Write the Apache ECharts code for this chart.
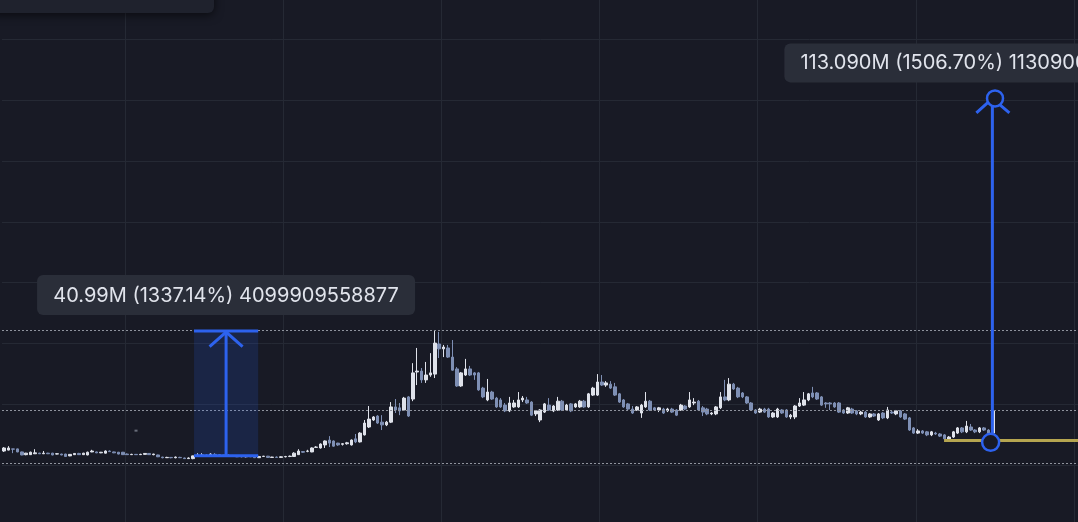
<!DOCTYPE html>
<html><head><meta charset="utf-8">
<script src="https://cdn.jsdelivr.net/npm/echarts@6/dist/echarts.min.js"></script>
<style>html,body{margin:0;padding:0;background:#181a25;overflow:hidden}#c{width:1078px;height:522px}</style>
</head><body><div id="c"></div>
<script>
// ---- data (values in millions) ----
const slotCount = 245;
const categories = Array.from({length: slotCount}, (_, i) => 'P' + (i + 1));
const opens = [
4.6,4.9,5.3,5.3,4.3,3.4,3.4,3.7,3.9,3.7,
3.9,3.9,3.6,3.6,3.6,3.0,3.4,3.8,3.4,3.3,
4.3,4.3,4.0,3.9,4.6,4.3,4.2,4.2,3.6,3.4,
3.5,3.4,3.5,3.8,3.4,3.3,2.6,2.4,2.5,2.4,
2.5,2.3,2.1,2.1,
3.0,3.0,3.3,3.0,3.5,3.4,3.1,3.2,3.1,3.0,
2.8,2.7,2.9,2.9,2.4,2.8,2.9,2.5,2.6,2.5,
2.7,2.8,
2.8,3.4,4.4,4.5,4.3,5.8,5.6,6.6,8.2,7.9,
7.2,6.8,7.0,6.6,8.6,7.6,9.9,12.5,14.8,16.1,
14.1,13.2,14.1,19.1,18.8,18.1,22.4,21.7,30.6,30.9,
28.0,29.6,29.9,39.8,38.2,38.5,35.5,31.6,26.0,29.6,
31.6,30.3,30.3,25.3,21.4,24.0,22.0,21.4,19.7,17.8,
19.1,19.1,21.4,21.4,20.7,16.8,14.8,17.4,19.7,17.8,
18.1,21.0,18.1,20.1,19.1,19.1,21.0,19.1,23.0,23.0,
27.3,26.3,26.6,25.7,23.4,21.4,20.1,18.4,18.1,17.1,
19.1,21.0,18.8,18.1,18.4,17.8,18.4,18.1,18.1,19.4,
19.1,20.4,21.0,18.8,18.4,16.8,16.8,18.8,22.4,21.4,
26.6,25.3,23.7,22.4,20.4,18.1,17.4,18.4,18.4,15.8,
15.8,18.1,18.1,15.8,15.8,19.4,19.7,21.4,23.7,23.7,
22.4,20.4,20.4,20.4,20.4,18.1,17.1,18.4,17.8,16.8,
17.4,15.8,16.8,14.8,17.1,15.5,17.4,16.8,17.8,16.8,
15.5,12.2,10.5,11.2,10.9,9.9,10.5,10.2,9.9,8.2,
9.2,10.5,12.2,10.9,12.5,11.5,10.9,12.2,11.5,10.5
];
const closes = [
5.6,5.6,5.2,4.3,3.3,3.9,4.2,4.0,3.7,3.9,
3.7,3.3,3.7,3.3,2.8,3.5,3.8,3.4,3.9,4.2,
4.6,4.0,4.2,4.6,4.4,4.0,3.6,3.4,3.4,3.5,
3.4,3.5,3.8,3.4,3.6,2.7,2.4,2.5,2.4,2.6,
2.4,2.1,2.3,3.0,
3.3,3.3,3.1,3.6,3.4,3.1,3.2,3.0,2.8,2.7,
2.7,2.9,2.7,2.4,2.8,2.9,2.5,2.6,2.5,2.7,
2.8,2.9,
3.9,4.6,4.2,4.6,5.6,5.9,6.9,7.9,7.2,6.2,
6.6,7.0,7.3,8.2,7.6,10.5,13.8,15.1,15.8,13.8,
13.2,14.1,19.1,18.1,17.8,22.0,16.1,30.3,30.9,28.0,
29.6,30.3,40.1,38.2,38.8,35.5,31.2,26.0,30.3,31.6,
29.6,29.6,24.7,22.4,24.0,21.7,19.1,19.1,17.8,20.4,
20.4,21.4,22.0,20.4,16.4,17.8,18.1,20.1,18.1,19.4,
21.0,18.1,19.7,17.8,20.1,21.0,19.1,23.4,25.3,27.3,
26.3,27.0,25.3,23.0,20.7,19.1,18.4,17.1,19.1,19.7,
21.0,18.1,18.1,18.8,17.1,18.4,17.4,16.4,19.7,18.4,
21.4,20.7,18.1,17.4,16.8,17.1,19.1,22.4,21.4,26.6,
25.0,22.4,22.4,20.4,18.1,17.1,18.4,17.4,15.8,17.1,
18.4,17.1,15.8,16.4,19.4,20.4,21.4,23.4,22.4,21.7,
19.7,20.1,20.1,19.1,17.4,17.1,18.8,17.1,16.8,17.4,
15.8,16.8,16.1,16.8,15.5,18.1,17.1,17.8,15.8,15.1,
11.5,10.5,11.2,10.5,9.9,10.9,10.2,9.5,8.6,9.2,
10.9,12.2,10.9,12.8,11.5,10.9,12.2,11.5,10.5,17.8
];
const lows = [
4.3,4.8,3.9,4.2,3.2,3.2,3.3,3.6,3.6,3.6,
3.6,3.2,3.5,3.2,2.7,2.9,3.3,3.3,3.3,3.2,
4.2,3.9,3.9,3.8,4.3,3.9,3.5,3.3,3.3,3.3,
3.3,3.3,3.4,3.3,3.2,2.6,2.2,2.3,2.2,2.2,
2.3,2.0,2.0,1.9,
2.9,2.9,2.9,2.9,3.2,3.0,2.9,2.9,2.7,2.6,
2.5,2.5,2.6,2.3,2.3,2.7,2.3,2.3,2.3,2.3,
2.5,2.6,
2.7,3.3,4.0,4.2,4.2,5.6,5.4,5.6,5.9,6.0,
6.3,6.4,6.7,6.4,7.2,7.4,9.7,12.2,14.5,13.5,
11.5,12.8,13.8,17.1,16.4,17.8,15.8,21.0,26.3,27.0,
27.0,29.0,28.6,35.2,35.5,35.2,31.0,25.7,25.7,29.3,
29.3,28.0,24.4,22.0,21.0,21.4,18.8,18.8,17.4,17.4,
18.8,18.8,20.7,20.1,16.1,16.1,14.1,17.1,17.8,17.4,
17.8,17.8,17.8,17.4,18.8,18.8,18.8,18.8,22.7,22.7,
26.0,25.7,25.0,22.7,20.4,18.8,18.1,16.8,17.8,15.5,
18.8,17.8,17.8,17.4,16.8,17.4,17.1,16.1,17.8,18.1,
18.8,19.7,17.8,16.1,16.4,16.4,16.4,18.4,21.0,21.0,
24.7,22.0,22.0,20.1,17.8,16.8,17.1,17.1,15.5,15.5,
15.5,16.8,15.5,15.1,15.1,19.1,19.4,21.0,22.0,21.4,
19.4,18.8,18.1,18.8,17.1,16.8,16.8,16.8,16.4,16.4,
15.5,15.5,15.8,14.5,15.1,15.1,16.8,16.4,15.5,14.8,
11.2,10.2,10.2,10.2,9.5,9.5,9.9,9.2,8.2,7.9,
8.9,10.2,10.5,10.5,11.2,10.5,10.5,11.2,10.2,10.2
];
const highs = [
5.9,6.2,5.3,5.4,4.4,4.0,4.4,5.2,4.0,4.6,
4.0,4.0,3.9,3.7,3.7,3.6,3.9,4.0,4.0,4.4,
5.0,4.4,4.3,4.8,4.8,4.4,4.3,4.3,3.8,3.7,
3.6,3.7,3.9,3.9,3.7,3.4,2.7,2.7,2.6,2.8,
2.7,2.4,2.5,3.1,
3.9,3.9,3.5,3.9,3.9,3.6,3.3,3.5,3.3,3.2,
3.0,3.0,3.0,3.0,3.0,3.0,3.0,2.7,2.8,2.9,
3.0,3.1,
4.2,5.2,4.6,5.0,5.8,6.2,7.1,8.1,9.5,8.1,
7.3,7.2,7.6,8.4,10.2,10.8,14.8,19.4,16.1,16.4,
16.4,14.5,20.7,21.7,20.4,22.4,22.7,33.5,38.5,31.9,
33.9,36.8,44.4,43.8,39.5,39.5,41.1,32.2,30.6,34.9,
32.6,30.6,30.6,25.7,28.3,24.4,22.4,22.0,20.4,22.4,
21.4,24.0,22.7,22.4,21.0,18.1,18.4,20.4,22.0,19.7,
22.4,21.4,20.1,20.4,20.4,21.4,21.4,23.7,25.7,29.9,
29.6,27.6,27.6,27.0,23.7,21.7,20.4,19.4,19.4,20.1,
24.0,21.4,19.1,19.1,18.8,18.8,18.8,18.4,20.1,19.7,
24.0,22.0,21.4,19.4,18.8,17.4,19.4,24.0,28.0,28.6,
27.0,25.7,24.0,22.7,20.7,18.4,18.8,18.8,18.8,17.4,
18.8,18.4,18.4,16.8,19.7,22.0,24.0,23.7,25.7,24.0,
22.7,20.7,20.7,20.7,20.7,18.4,19.1,18.8,18.1,17.8,
17.8,17.1,17.1,17.1,17.4,19.1,17.8,18.1,18.1,17.1,
15.8,12.5,11.8,11.5,11.2,11.2,10.9,10.5,10.2,9.5,
11.2,12.5,12.5,14.5,13.5,11.8,12.5,12.5,11.8,19.4
];
const refLevels = [44.4, 18.1, 0.66];          // dotted horizontal levels
const strayMarks = [[30.2, 11.3]];             // tiny stray mark
const rangeA = {start: 43.2, end: 57.8, mid: 50.5, from: 3.066, to: 44.06};
const labelA = '40.99M (1337.14%) 4099909558877';
const rangeB = {at: 224.9, bottomAt: 224.5, topAt: 225.5, from: 7.47, to: 120.6};
const labelB = '113.090M (1506.70%) 11309000000000';
const baseLine = {start: 213.9, end: 245, value: 8.06};

// ---- chart ----
const BG = '#181a25', GRID = '#252934', BLUE = '#2d62ee';
const chart = echarts.init(document.getElementById('c'), null, {renderer: 'canvas'});
const ohlc = opens.map((o, i) => [o, closes[i], lows[i], highs[i]]);

chart.setOption({
  backgroundColor: BG,
  animation: false,
  grid: {left: 2, top: -21.4, width: 1076.5, height: 547.2, outerBoundsMode: 'none', containLabel: false},
  xAxis: {
    type: 'category', data: categories, boundaryGap: true,
    axisLine: {show: false}, axisTick: {show: false}, axisLabel: {show: false},
    splitLine: {show: true, interval: (i) => i % 36 === 28, lineStyle: {color: GRID, width: 1}}
  },
  yAxis: {
    type: 'value', min: -20, max: 160, interval: 20, scale: false,
    axisLine: {show: false}, axisTick: {show: false}, axisLabel: {show: false},
    splitLine: {show: true, lineStyle: {color: GRID, width: 1}}
  },
  series: [{
    type: 'candlestick',
    data: ohlc,
    barWidth: 3,
    itemStyle: {color: '#dfe2ea', color0: '#7e8fb4', borderColor: '#dfe2ea', borderColor0: '#7e8fb4', borderWidth: 1},
    markLine: {
      silent: true, symbol: ['none', 'none'], label: {show: false},
      lineStyle: {color: '#8f939d', type: [2, 2], width: 1},
      data: refLevels.map(v => ({yAxis: v}))
    }
  }, {
    type: 'scatter', data: strayMarks, symbol: 'rect', symbolSize: [3, 2],
    itemStyle: {color: '#7d8290'}, silent: true
  }]
});

function px(f, v) {
  const a = chart.convertToPixel({gridIndex: 0}, [0, v]);
  const b = chart.convertToPixel({gridIndex: 0}, [1, v]);
  return [a[0] + f * (b[0] - a[0]), a[1]];
}

const aTL = px(rangeA.start, rangeA.to), aBR = px(rangeA.end, rangeA.from);
const aMidTop = px(rangeA.mid, rangeA.to), aMidBot = px(rangeA.mid, rangeA.from);
const bTop = px(rangeB.at, rangeB.to), bBot = px(rangeB.at, rangeB.from);
const bTopC = px(rangeB.topAt, rangeB.to), bBotC = px(rangeB.bottomAt, rangeB.from);
const yl0 = px(baseLine.start, baseLine.value), yl1 = px(baseLine.end, baseLine.value);

const font = '20px Inter, "Noto Sans", sans-serif';
const labelColor = '#e1e4ec';
const boxColor = '#2a2e39';

chart.setOption({
  graphic: [
    // top-left panel peeking in
    {type: 'rect', shape: {x: -10, y: -30, width: 224, height: 43, r: 6},
     style: {fill: '#1f222d', shadowBlur: 10, shadowColor: 'rgba(0,0,0,0.6)', shadowOffsetY: 2}, z: 100},
    // range A
    {type: 'rect', shape: {x: aTL[0], y: aTL[1], width: aBR[0] - aTL[0], height: aBR[1] - aTL[1]},
     style: {fill: 'rgba(41,98,255,0.15)'}, z: 101},
    {type: 'line', shape: {x1: aTL[0], y1: aTL[1], x2: aBR[0], y2: aTL[1]}, style: {stroke: BLUE, lineWidth: 3}, z: 102},
    {type: 'line', shape: {x1: aTL[0], y1: aBR[1], x2: aBR[0], y2: aBR[1]}, style: {stroke: BLUE, lineWidth: 3}, z: 102},
    {type: 'line', shape: {x1: aMidBot[0], y1: aMidBot[1], x2: aMidTop[0], y2: aMidTop[1] + 1}, style: {stroke: BLUE, lineWidth: 3}, z: 102},
    {type: 'polyline', shape: {points: [[aMidTop[0] - 16.5, aMidTop[1] + 15.5], [aMidTop[0], aMidTop[1] + 1], [aMidTop[0] + 16.5, aMidTop[1] + 15.5]]},
     style: {stroke: BLUE, lineWidth: 3, fill: null}, z: 102},
    {type: 'rect', shape: {x: aMidTop[0] - 189, y: aMidTop[1] - 56, width: 378, height: 40, r: 6},
     style: {fill: boxColor}, z: 103},
    {type: 'text', style: {text: labelA, x: aMidTop[0], y: aMidTop[1] - 35.5, font: font, fill: labelColor,
      align: 'center', verticalAlign: 'middle', textAlign: 'center', textVerticalAlign: 'middle'}, z: 104},
    // base line (yellow)
    {type: 'line', shape: {x1: yl0[0], y1: yl0[1], x2: yl1[0] + 10, y2: yl0[1]}, style: {stroke: '#b5a550', lineWidth: 3}, z: 101},
    // range B
    {type: 'line', shape: {x1: bBot[0], y1: bBot[1], x2: bTop[0], y2: bTop[1]}, style: {stroke: BLUE, lineWidth: 3}, z: 102},
    {type: 'polyline', shape: {points: [[bTop[0] - 16, bTop[1] + 14.5], [bTop[0], bTop[1]], [bTop[0] + 17, bTop[1] + 14.5]]},
     style: {stroke: BLUE, lineWidth: 3, fill: null}, z: 102},
    {type: 'circle', shape: {cx: bTopC[0], cy: bTopC[1], r: 8}, style: {fill: BG, stroke: BLUE, lineWidth: 2.5}, z: 103},
    {type: 'circle', shape: {cx: bBotC[0], cy: bBotC[1], r: 8.5}, style: {fill: BG, stroke: BLUE, lineWidth: 2.5}, z: 103},
    {type: 'rect', shape: {x: bTop[0] - 208, y: bTopC[1] - 55, width: 440, height: 39, r: 6},
     style: {fill: boxColor}, z: 103},
    {type: 'text', style: {text: labelB, x: bTop[0] - 192, y: bTopC[1] - 35.5, font: font, fill: labelColor,
      align: 'left', verticalAlign: 'middle', textAlign: 'left', textVerticalAlign: 'middle'}, z: 104}
  ]
});
</script>
</body></html>
